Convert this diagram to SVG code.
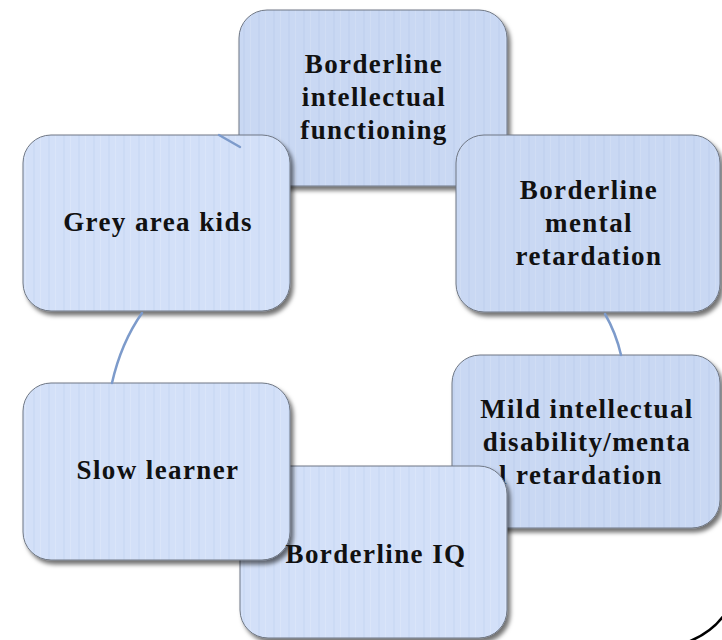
<svg xmlns="http://www.w3.org/2000/svg" width="722" height="640" viewBox="0 0 722 640">
  <defs>
    <style>
      .box { stroke: #6f7784; stroke-width: 1; filter: url(#shadow); }
      .fillA { fill: url(#stripesA); }
      .fillB { fill: url(#stripesB); }
      .label { font-family: "Liberation Serif", "DejaVu Serif", serif; font-weight: bold; font-size: 27px; letter-spacing: 1.4px; fill: #111; text-anchor: middle; }
      .start { text-anchor: start; }
      .conn { fill: none; stroke: #7d9bcb; stroke-width: 2.5; stroke-linecap: round; }
    </style>
    <filter id="shadow" x="-10%" y="-10%" width="125%" height="130%">
      <feDropShadow dx="3" dy="4" stdDeviation="2.2" flood-color="#000" flood-opacity="0.55"/>
    </filter>
    <!-- faint vertical stripe texture on the node fill -->
    <pattern id="stripesA" patternUnits="userSpaceOnUse" width="15" height="10">
      <rect width="15" height="10" fill="#c9d8f3"/>
      <rect x="3" width="2" height="10" fill="#bfd0ee" opacity="0.6"/>
      <rect x="10" width="1" height="10" fill="#d4e0f6" opacity="0.7"/>
    </pattern>
    <pattern id="stripesB" patternUnits="userSpaceOnUse" width="15" height="10">
      <rect width="15" height="10" fill="#d3e0f8"/>
      <rect x="3" width="2" height="10" fill="#c8d7f3" opacity="0.6"/>
      <rect x="10" width="1" height="10" fill="#dde7fa" opacity="0.7"/>
    </pattern>
  </defs>

  <rect width="722" height="640" fill="#fff"/>

  <!-- outer black arc at the lower right -->
  <path d="M 724 615 Q 712 632 688 642" fill="none" stroke="#000" stroke-width="2.5"/>

  <g id="node-borderline-intellectual">
    <rect class="box fillA" x="239" y="10" width="268" height="176" rx="28"/>
    <text class="label" x="374" y="73">Borderline</text>
    <text class="label" x="374" y="106">intellectual</text>
    <text class="label" x="374" y="139">functioning</text>
  </g>

  <g id="node-grey-area">
    <rect class="box fillB" x="23" y="135" width="267" height="176" rx="28"/>
    <text class="label" x="158" y="231">Grey area kids</text>
  </g>

  <g id="node-borderline-mental">
    <rect class="box fillA" x="456" y="135" width="264" height="177" rx="28"/>
    <text class="label" x="589" y="199">Borderline</text>
    <text class="label" x="589" y="232">mental</text>
    <text class="label" x="589" y="265">retardation</text>
  </g>

  <g id="node-mild">
    <rect class="box fillA" x="452" y="355" width="268" height="173" rx="28"/>
    <text class="label" x="587" y="418">Mild intellectual</text>
    <text class="label" x="587" y="451">disability/menta</text>
    <text class="label start" x="499" y="484">l retardation</text>
  </g>

  <g id="node-borderline-iq">
    <rect class="box fillB" x="240" y="466" width="267" height="172" rx="28"/>
  </g>

  <g id="node-slow-learner">
    <rect class="box fillB" x="23" y="383" width="267" height="177" rx="28"/>
    <text class="label" x="158" y="479">Slow learner</text>
  </g>

  <g id="node-borderline-iq-label">
    <text class="label" x="376" y="563">Borderline IQ</text>
  </g>

  <g id="connectors">
    <path class="conn" d="M 219 135 L 240 147" stroke="#9db3da"/>
    <path class="conn" d="M 605 314 Q 616 333 621 355"/>
    <path class="conn" d="M 142 313 Q 121 343 112 383"/>
  </g>
</svg>
